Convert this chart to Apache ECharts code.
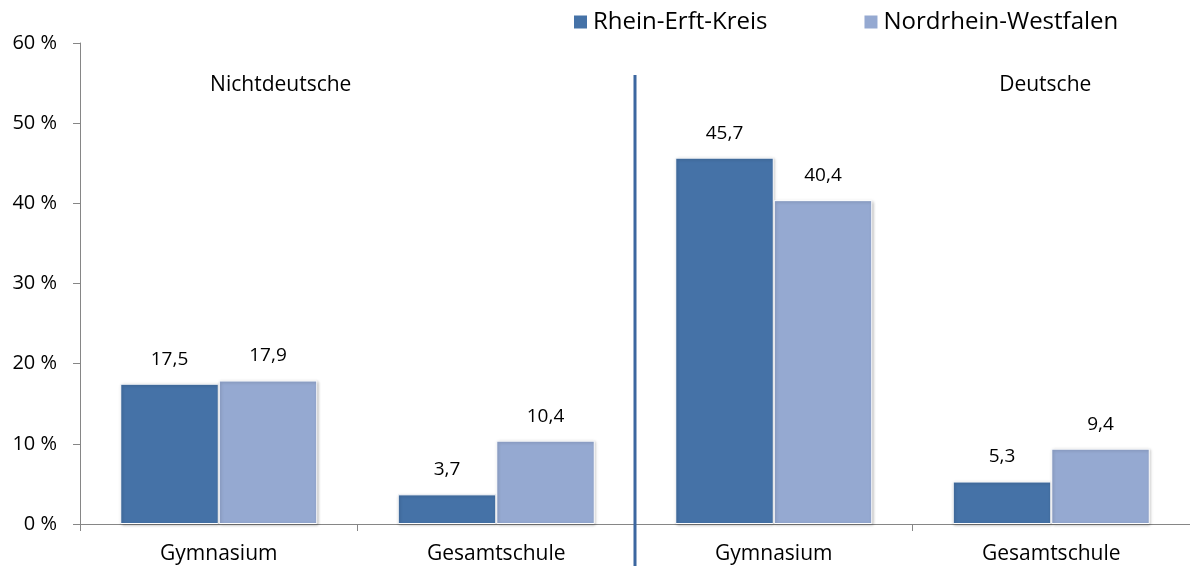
<!DOCTYPE html>
<html>
<head>
<meta charset="utf-8">
<script src="https://cdn.jsdelivr.net/npm/echarts@6/dist/echarts.min.js"></script>
<style>
  html, body { margin: 0; padding: 0; background: #fff; }
  #chart { width: 1190px; height: 569px; }
</style>
</head>
<body>
<div id="chart"></div>
<script>
// Kategorien (links Nichtdeutsche, rechts Deutsche)
var categories = ['Gymnasium', 'Gesamtschule', 'Gymnasium ', 'Gesamtschule '];
var groupLabels = ['Nichtdeutsche', 'Deutsche'];
var seriesNames = ['Rhein-Erft-Kreis', 'Nordrhein-Westfalen'];
var rheinErft = [17.5, 3.7, 45.7, 5.3];
var nrw = [17.9, 10.4, 40.4, 9.4];

var font = '"Open Sans", sans-serif';

var myChart = echarts.init(document.getElementById('chart'));

function fmt(p) {
  return String(p.value).replace('.', ',');
}

var barStyle = function (color) {
  return {
    color: color,
    borderColor: '#ffffff',
    borderWidth: 1,
    shadowBlur: 3,
    shadowOffsetX: 1,
    shadowOffsetY: 1,
    shadowColor: 'rgba(0,0,0,0.25)'
  };
};

var option = {
  animation: false,
  textStyle: { fontFamily: font },
  legend: {
    top: 5,
    left: 567,
    itemWidth: 15,
    itemHeight: 15,
    itemGap: 95,
    icon: 'rect',
    textStyle: { fontSize: 24, color: '#000', fontFamily: font },
    data: seriesNames
  },
  grid: { left: 80, right: 0, top: 43, bottom: 45, containLabel: false },
  xAxis: {
    type: 'category',
    data: categories,
    axisLine: { lineStyle: { color: '#868686', width: 1 } },
    axisTick: { show: true, length: 7, lineStyle: { color: '#868686' } },
    axisLabel: {
      fontSize: 21, color: '#000', margin: 20, fontFamily: font,
      formatter: function (v) { return v.trim(); }
    }
  },
  yAxis: {
    type: 'value',
    min: 0,
    max: 60,
    interval: 10,
    splitLine: { show: false },
    axisLine: { show: true, lineStyle: { color: '#868686', width: 1 } },
    axisTick: { show: true, length: 7, lineStyle: { color: '#868686' } },
    axisLabel: {
      fontSize: 20, color: '#000', margin: 23, fontFamily: font,
      formatter: '{value} %'
    }
  },
  series: [
    {
      name: seriesNames[0],
      type: 'bar',
      data: rheinErft,
      barGap: '0%',
      barCategoryGap: '29%',
      itemStyle: barStyle('#4572A7'),
      label: { show: true, position: 'top', distance: 15, fontSize: 19, color: '#000', formatter: fmt }
    },
    {
      name: seriesNames[1],
      type: 'bar',
      data: nrw,
      barGap: '0%',
      barCategoryGap: '29%',
      itemStyle: barStyle('#95A9D1'),
      label: { show: true, position: 'top', distance: 15, fontSize: 19, color: '#000', formatter: fmt }
    }
  ]
};
myChart.setOption(option);

// Trennlinie zwischen den beiden Gruppen + Gruppenbeschriftungen
var x1 = myChart.convertToPixel({ xAxisIndex: 0 }, categories[1]);
var x2 = myChart.convertToPixel({ xAxisIndex: 0 }, categories[2]);
var xMid = (x1 + x2) / 2;
var xLeft = myChart.convertToPixel({ xAxisIndex: 0 }, categories[0]);
var xRight = myChart.convertToPixel({ xAxisIndex: 0 }, categories[3]);

myChart.setOption({
  graphic: [
    {
      type: 'line',
      shape: { x1: xMid, y1: 75, x2: xMid, y2: 566 },
      style: { stroke: '#3C67A0', lineWidth: 3 },
      z: 100
    },
    {
      type: 'text',
      x: xLeft + 62,
      y: 85,
      style: { text: groupLabels[0], fontSize: 21, fill: '#000', fontFamily: font, align: 'center', verticalAlign: 'middle' }
    },
    {
      type: 'text',
      x: xRight - 6,
      y: 85,
      style: { text: groupLabels[1], fontSize: 21, fill: '#000', fontFamily: font, align: 'center', verticalAlign: 'middle' }
    }
  ]
});

window.addEventListener('resize', function () {
  myChart.resize();
});
</script>
</body>
</html>
